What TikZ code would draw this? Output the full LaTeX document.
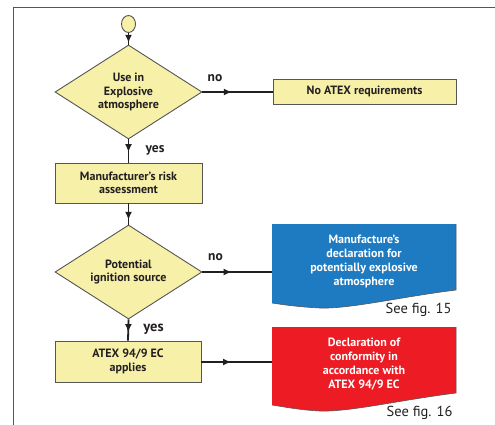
\documentclass[tikz,border=0pt]{standalone}
\usepackage{fontspec}
\setmainfont{PT Sans}
\usetikzlibrary{shapes.geometric,arrows.meta,decorations.markings}
\definecolor{fillY}{HTML}{F6F0A8}
\definecolor{edgeG}{HTML}{555555}
\definecolor{lineK}{HTML}{231F20}
\definecolor{blueD}{HTML}{1F7BC1}
\definecolor{redD}{HTML}{ED1C24}
\begin{document}
\begin{tikzpicture}[x=1pt,y=-1pt,
  every node/.style={font=\bfseries\fontsize{12}{13.5}\selectfont, align=center, text=lineK},
  decbox/.style={diamond, draw=edgeG, line width=0.9pt, fill=fillY, aspect=1.56, inner sep=0pt, minimum width=147pt, minimum height=94pt},
  stepbox/.style={rectangle, draw=edgeG, line width=0.9pt, fill=fillY, inner sep=0pt},
  conn/.style={draw=lineK, line width=1.8pt},
  midarrow/.style={postaction={decorate}, decoration={markings, mark=at position #1 with {\arrow{Latex[length=8pt,width=7pt]}}}},
  lab/.style={font=\bfseries\fontsize{13.5}{14}\selectfont},
  doclab/.style={text=white, font=\bfseries\fontsize{12}{14}\selectfont},
  seefig/.style={font=\fontsize{14.5}{15}\selectfont, anchor=east}
]
\useasboundingbox (0,0) rectangle (495,425);
% frame
\draw[edgeG, line width=1.4pt] (13.5,425) -- (13.5,7.5) -- (495,7.5);

% nodes
\node[ellipse, draw=edgeG, line width=0.9pt, fill=fillY, minimum width=14pt, minimum height=17pt, inner sep=0pt] (start) at (128.5,24) {};
\node[decbox] (d1) at (128.5,92) {Use in\\Explosive\\atmosphere};
\node[stepbox, minimum width=147pt, minimum height=40pt] (b1) at (128.5,183) {Manufacturer’s risk\\assessment};
\node[stepbox, minimum width=183pt, minimum height=25pt] (na) at (364.5,91.5) {No ATEX requirements};
\node[decbox] (d2) at (128.5,272) {Potential\\ignition source};
\node[stepbox, minimum width=146pt, minimum height=41pt] (b2) at (128,361.5) {ATEX 94/9 EC\\applies};

% document shapes
\fill[blueD] (272,224) -- (456,224) -- (456,290)
  .. controls (400,297) and (350,309) .. (320,308)
  .. controls (300,307) and (285,305) .. (272,303) -- cycle;
\draw[edgeG, line width=0.6pt] (456,224) -- (456,290)
  .. controls (400,297) and (350,309) .. (320,308)
  .. controls (300,307) and (285,305) .. (272,303);
\node[doclab] (blueT) at (364,261) {Manufacture’s\\declaration for\\potentially explosive\\atmosphere};
\coordinate (blueL) at (272,272);

\fill[redD] (272,327) -- (456,327) -- (456,393)
  .. controls (400,400) and (350,412) .. (320,411)
  .. controls (300,410) and (285,407) .. (272,405) -- cycle;
\draw[edgeG, line width=0.6pt] (456,327) -- (456,393)
  .. controls (400,400) and (350,412) .. (320,411)
  .. controls (300,410) and (285,407) .. (272,405);
\node[doclab] (redT) at (364,364) {Declaration of\\conformity in\\accordance with\\ATEX 94/9 EC};
\coordinate (redL) at (272,362);

\node[seefig] (s15) at (455,310) {See fig. 15};
\node[seefig] (s16) at (456,413) {See fig. 16};

% connectors
\draw[conn, midarrow=0.85] (start.south) -- (d1.north);
\draw[conn, midarrow=0.55] (d1.south) -- (b1.north);
\draw[conn, midarrow=0.78] (b1.south) -- (d2.north);
\draw[conn, midarrow=0.6] (d2.south) -- (b2.north);
\draw[conn, midarrow=0.42] (d1.east) -- (na.west |- d1.east);
\draw[conn, midarrow=0.42] (d2.east) -- (blueL);
\draw[conn, midarrow=0.42] (b2.east |- redL) -- (redL);

% labels
\node[lab] (no1) at (215,78) {no};
\node[lab] (yes1) at (155,150) {yes};
\node[lab] (no2) at (215.5,257) {no};
\node[lab, font=\bfseries\fontsize{14.5}{15}\selectfont] (yes2) at (153.5,329) {yes};
\end{tikzpicture}
\end{document}
